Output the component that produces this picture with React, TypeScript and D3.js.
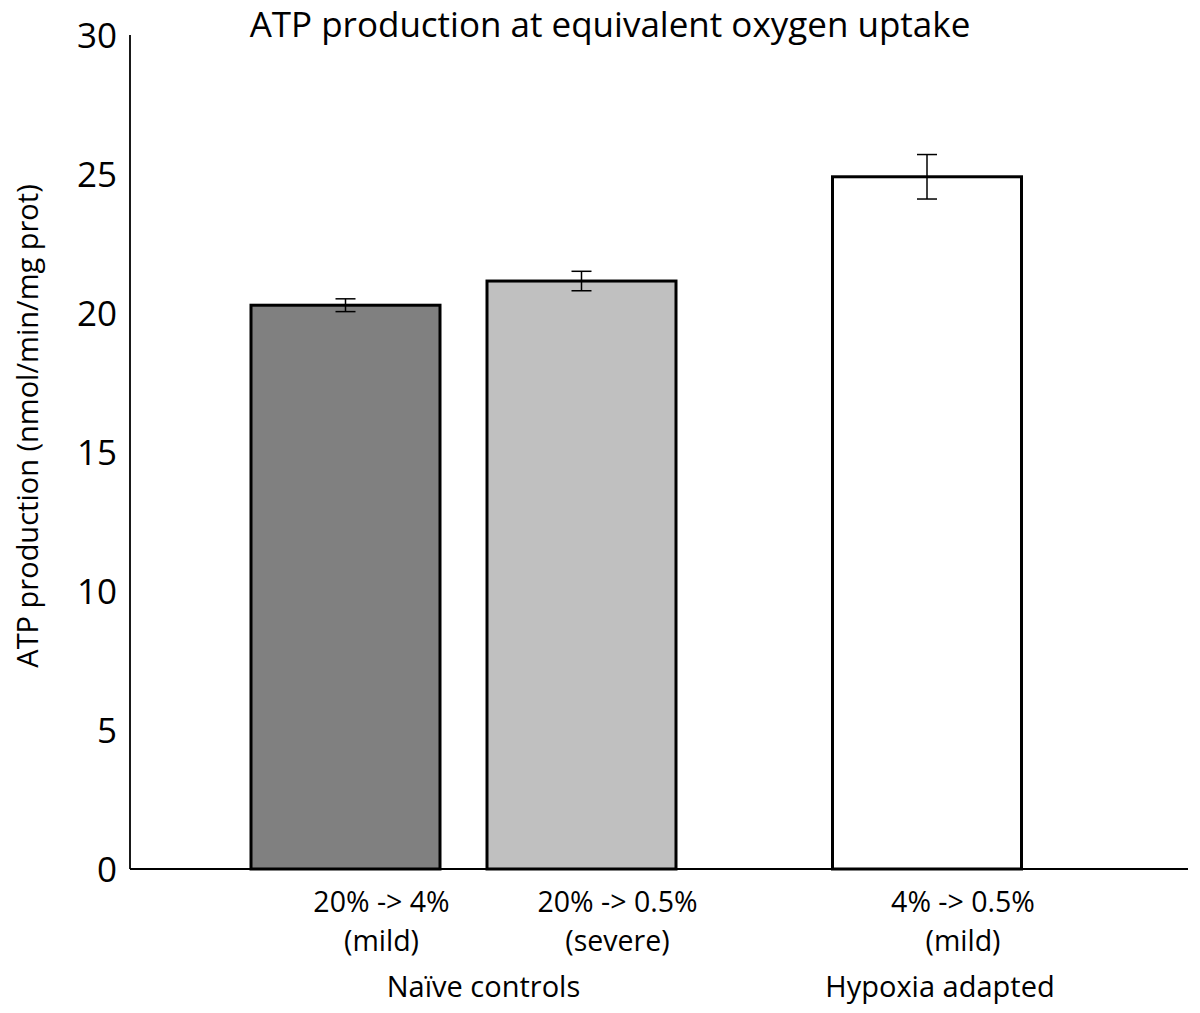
import React from "react";
import * as d3 from "d3";

const groups = ["Naïve controls", "Hypoxia adapted"];
const barGroup = ["Naïve controls", "Naïve controls", "Hypoxia adapted"];
const barLine1 = ["20% -> 4%", "20% -> 0.5%", "4% -> 0.5%"];
const barLine2 = ["(mild)", "(severe)", "(mild)"];
const values = [20.28, 21.15, 24.9];
const errors = [0.23, 0.35, 0.8];
const fills = ["#808080", "#c0c0c0", "#ffffff"];
const yTicks = [0, 5, 10, 15, 20, 25, 30];

const W = 1200;
const H = 1013;
const FONT = "'Open Sans', 'Noto Sans', sans-serif";

export default function App() {
  const left = 130;
  const right = 1188;
  const top = 35;
  const bottom = 869;
  const y = d3.scaleLinear().domain([0, 30]).range([bottom, top]);
  const groupX = d3.scalePoint<string>().domain(groups).range([463.5, 927]);
  const barW = 189;
  const gap = 47;

  const bars = values.map((v, i) => {
    const g = barGroup[i];
    const members = barGroup.map((gg, j) => (gg === g ? j : -1)).filter((j) => j >= 0);
    const n = members.length;
    const k = members.indexOf(i);
    const span = n * barW + (n - 1) * gap;
    const inner = d3.scaleLinear().domain([0, Math.max(n - 1, 1)]).range([-span / 2, span / 2 - barW]);
    const x0 = (groupX(g) as number) + (n === 1 ? -barW / 2 : inner(k));
    return { i, v, x0, w: barW };
  });

  return (
    <svg width={W} height={H} style={{ position: "absolute", left: 0, top: 0, background: "#fff" }}>
      <rect x={0} y={0} width={W} height={H} fill="#fff" />
      <text x={610} y={37} textAnchor="middle" fontFamily={FONT} fontSize={35} fill="#000">
        ATP production at equivalent oxygen uptake
      </text>
      {bars.map((b) => (
        <g key={b.i}>
          <rect
            x={b.x0}
            y={y(b.v)}
            width={b.w}
            height={bottom - y(b.v)}
            fill={fills[b.i]}
            stroke="#000"
            strokeWidth={3}
          />
          <line x1={b.x0 + b.w / 2} x2={b.x0 + b.w / 2} y1={y(b.v + errors[b.i])} y2={y(b.v - errors[b.i])} stroke="#000" strokeWidth={1.5} />
          <line x1={b.x0 + b.w / 2 - 10} x2={b.x0 + b.w / 2 + 10} y1={y(b.v + errors[b.i])} y2={y(b.v + errors[b.i])} stroke="#000" strokeWidth={1.5} />
          <line x1={b.x0 + b.w / 2 - 10} x2={b.x0 + b.w / 2 + 10} y1={y(b.v - errors[b.i])} y2={y(b.v - errors[b.i])} stroke="#000" strokeWidth={1.5} />
          <text x={b.x0 + b.w / 2 + 36} y={912} textAnchor="middle" fontFamily={FONT} fontSize={28.5} fill="#000">
            {barLine1[b.i]}
          </text>
          <text x={b.x0 + b.w / 2 + 36} y={951} textAnchor="middle" fontFamily={FONT} fontSize={28.5} fill="#000">
            {barLine2[b.i]}
          </text>
        </g>
      ))}
      {groups.map((g) => (
        <text key={g} x={(groupX(g) as number) + (g === groups[0] ? 20 : 13)} y={997} textAnchor="middle" fontFamily={FONT} fontSize={29} fill="#000">
          {g}
        </text>
      ))}
      <line x1={left} x2={left} y1={top} y2={bottom} stroke="#000" strokeWidth={1.8} />
      <line x1={left} x2={right} y1={bottom} y2={bottom} stroke="#000" strokeWidth={1.8} />
      {yTicks.map((t) => (
        <text key={t} x={117} y={y(t)} dy="0.36em" textAnchor="end" fontFamily={FONT} fontSize={35} fill="#000">
          {t}
        </text>
      ))}
      <text
        transform={`translate(38, 426) rotate(-90)`}
        textAnchor="middle"
        fontFamily={FONT}
        fontSize={29}
        fill="#000"
      >
        ATP production (nmol/min/mg prot)
      </text>
    </svg>
  );
}
